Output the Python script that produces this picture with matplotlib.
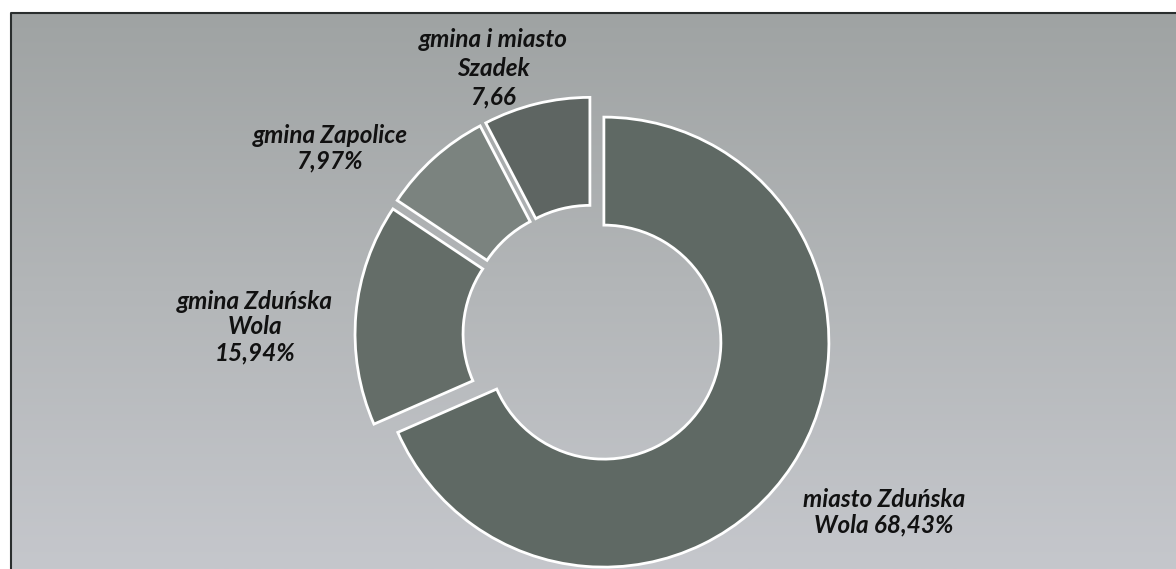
import numpy as np
import matplotlib
matplotlib.use('Agg')
import matplotlib.pyplot as plt
from matplotlib.colors import LinearSegmentedColormap

# shares of the four units (percent), clockwise from 12 o'clock
units = ['miasto Zduńska Wola', 'gmina Zduńska Wola', 'gmina Zapolice', 'gmina i miasto Szadek']
shares = [68.43, 15.94, 7.97, 7.66]
label_texts = ['miasto Zduńska\nWola 68,43%',
               'gmina Zduńska\nWola\n15,94%',
               'gmina Zapolice\n7,97%',
               'gmina i miasto\nSzadek\n7,66']

W, H = 1176, 569
fig = plt.figure(figsize=(W / 100, H / 100), dpi=100)
fig.patch.set_facecolor('white')
ax = fig.add_axes([0, 0, 1, 1])
ax.set_xlim(0, W)
ax.set_ylim(0, H)
ax.axis('off')

# scanned grey panel with a soft vertical gradient
grad = np.linspace(0, 1, 256).reshape(-1, 1)
cmap = LinearSegmentedColormap.from_list('bg', ['#9fa3a3', '#b3b6b8', '#c5c7cc'])
ax.imshow(grad, cmap=cmap, aspect='auto', extent=(11, W, 0, H - 13),
          origin='upper', zorder=0)
ax.plot([11, 11, W], [0, H - 13, H - 13], color='#2a2e2e', lw=1.5, zorder=1)

# donut, every slice pulled out a little
colors = ['#5f6964', '#646d68', '#7b837f', '#5e6562']
cx, cy = 593, H - 335
wedges, _ = ax.pie(shares, startangle=90, counterclock=False, radius=225,
                   center=(cx, cy), explode=[13] * 4, colors=colors,
                   wedgeprops=dict(width=108, edgecolor='white', linewidth=2))
for w in wedges:
    w.set_zorder(2)
ax.set_xlim(0, W)
ax.set_ylim(0, H)
ax.set_aspect('auto')

# data labels
label_pos = [(884, H - 512), (255, H - 327), (330, H - 148), (493, H - 68)]
spacing = [1.15, 1.15, 1.15, 1.3]
for txt, (x, y), ls in zip(label_texts, label_pos, spacing):
    ax.text(x, y, txt, ha='center', va='center', fontsize=17.5,
            fontfamily='Lato', fontweight='bold', fontstyle='italic',
            color='#111111', linespacing=ls, zorder=3)

fig.savefig('out.png', dpi=100)
